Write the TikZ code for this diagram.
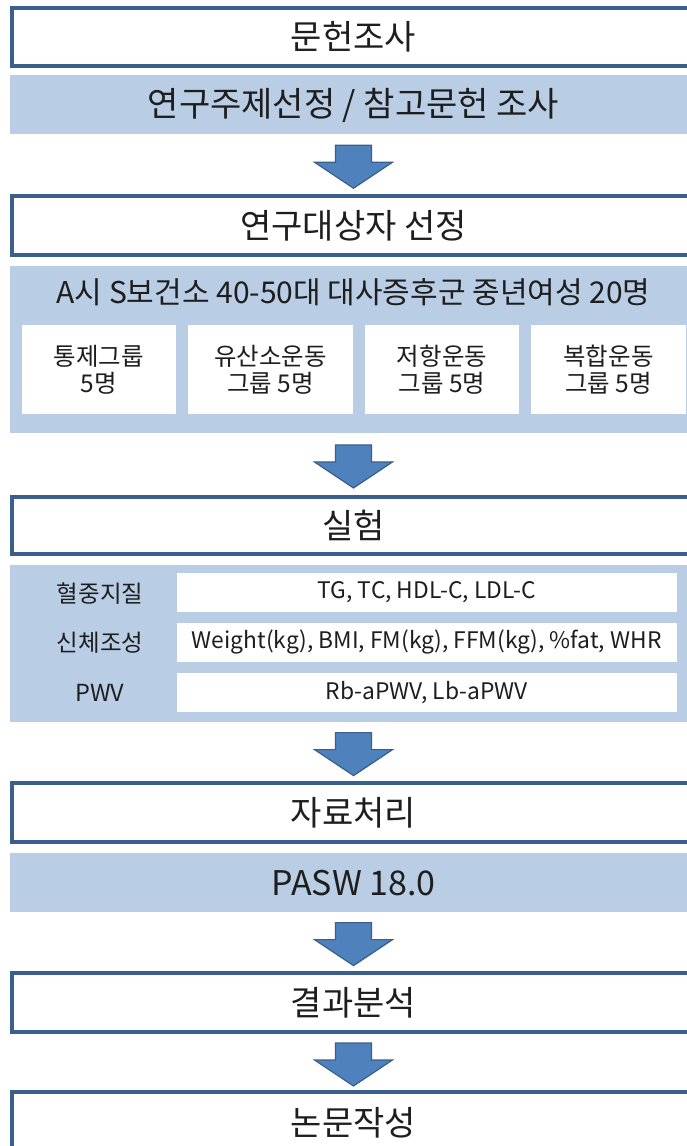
\documentclass[tikz,border=0pt]{standalone}
\usepackage{fontspec}
\setmainfont{Noto Sans CJK KR}
\usetikzlibrary{calc}
\definecolor{bordc}{HTML}{3B5F8C}
\definecolor{panelc}{HTML}{B9CDE5}
\definecolor{arrowc}{HTML}{4F81BD}
\definecolor{txtc}{HTML}{1E1E1E}
\tikzset{
  blockarrow/.pic={
    \draw[draw=bordc, fill=arrowc, line width=1.2pt, line join=miter]
      (-18,-20.5) -- (18,-20.5) -- (18,-3.5) -- (39,-3.5) -- (0,22.5)
      -- (-39,-3.5) -- (-18,-3.5) -- cycle;
  }
}
\begin{document}
\begin{tikzpicture}[x=1pt,y=-1pt,
  stepbox/.style={draw=bordc, line width=4pt, fill=white, minimum width=684pt,
    inner sep=0pt, text=txtc, font=\fontsize{34}{40}\selectfont},
  panel/.style={fill=panelc, draw=none, minimum width=687pt, inner sep=0pt},
  cell/.style={fill=white, draw=none, inner sep=0pt, text=txtc, align=center,
    font=\fontsize{24.5}{27}\selectfont},
  lbl/.style={inner sep=0pt, text=txtc, font=\fontsize{23.5}{26}\selectfont},
  big/.style={inner sep=0pt, text=txtc, font=\fontsize{34}{40}\selectfont},
  rowcell/.style={cell, minimum width=499.5pt, minimum height=39pt,
    font=\fontsize{22.8}{26}\selectfont},
]
\useasboundingbox (0,0) rectangle (687,1146);
\clip (0,0) rectangle (687,1146);
\fill[white] (0,0) rectangle (687,1146);

% step 1
\node[stepbox, minimum height=57.5pt] (b1) at (353.5,36.75) {문헌조사};
\node[panel, minimum height=59pt] (p1) at (353.5,104.5) {};
\node[big] (p1t) at (353.5,105.5) {연구주제선정 / 참고문헌 조사};

% step 2
\node[stepbox, minimum height=58.2pt] (b2) at (353.5,225.4) {연구대상자 선정};
\node[panel, minimum height=167.5pt] (p2) at (353.5,349.25) {};
\node[inner sep=0pt, text=txtc, font=\fontsize{30}{34}\selectfont] (p2t) at (353.5,292) {A시 S보건소 40-50대 대사증후군 중년여성 20명};
\node[cell, minimum width=154.3pt, minimum height=89pt] (g1) at (98.85,369.5) {통제그룹\\5명};
\node[cell, minimum width=165.6pt, minimum height=89pt] (g2) at (270.5,369.5) {유산소운동\\그룹 5명};
\node[cell, minimum width=154pt, minimum height=89pt] (g3) at (442,369.5) {저항운동\\그룹 5명};
\node[cell, minimum width=155pt, minimum height=89pt] (g4) at (608.5,369.5) {복합운동\\그룹 5명};

% step 3
\node[stepbox, minimum height=57.3pt] (b3) at (353.5,525.35) {실험};
\node[panel, minimum height=156.7pt] (p3) at (353.5,643.35) {};
\node[lbl] (l1) at (100,593.5) {혈중지질};
\node[lbl] (l2) at (100,643) {신체조성};
\node[lbl] (l3) at (100,693) {PWV};
\node[rowcell] (c1) at (426.75,592.5) {TG, TC, HDL-C, LDL-C};
\node[rowcell] (c2) at (426.75,642.5) {Weight(kg), BMI, FM(kg), FFM(kg), \%fat, WHR};
\node[rowcell] (c3) at (426.75,692.5) {Rb-aPWV, Lb-aPWV};

% step 4
\node[stepbox, minimum height=59pt] (b4) at (353.5,812.8) {자료처리};
\node[panel, minimum height=59pt] (p4) at (353.5,882.2) {};
\node[big] (p4t) at (353.5,883.2) {PASW 18.0};

% step 5
\node[stepbox, minimum height=59pt] (b5) at (353.5,1002.8) {결과분석};

% step 6
\node[stepbox, minimum height=62.6pt] (b6) at (353.5,1123) {논문작성};

% arrows
\pic at ($($(p1.south)!0.5!(b2.north)$)+(0,1.5)$) {blockarrow};
\pic at ($($(p2.south)!0.5!(b3.north)$)+(0,1.5)$) {blockarrow};
\pic at ($($(p3.south)!0.5!(b4.north)$)+(0,1.5)$) {blockarrow};
\pic at ($($(p4.south)!0.5!(b5.north)$)+(0,1.5)$) {blockarrow};
\pic at ($($(b5.south)!0.5!(b6.north)$)+(0,1.5)$) {blockarrow};
\end{tikzpicture}
\end{document}
